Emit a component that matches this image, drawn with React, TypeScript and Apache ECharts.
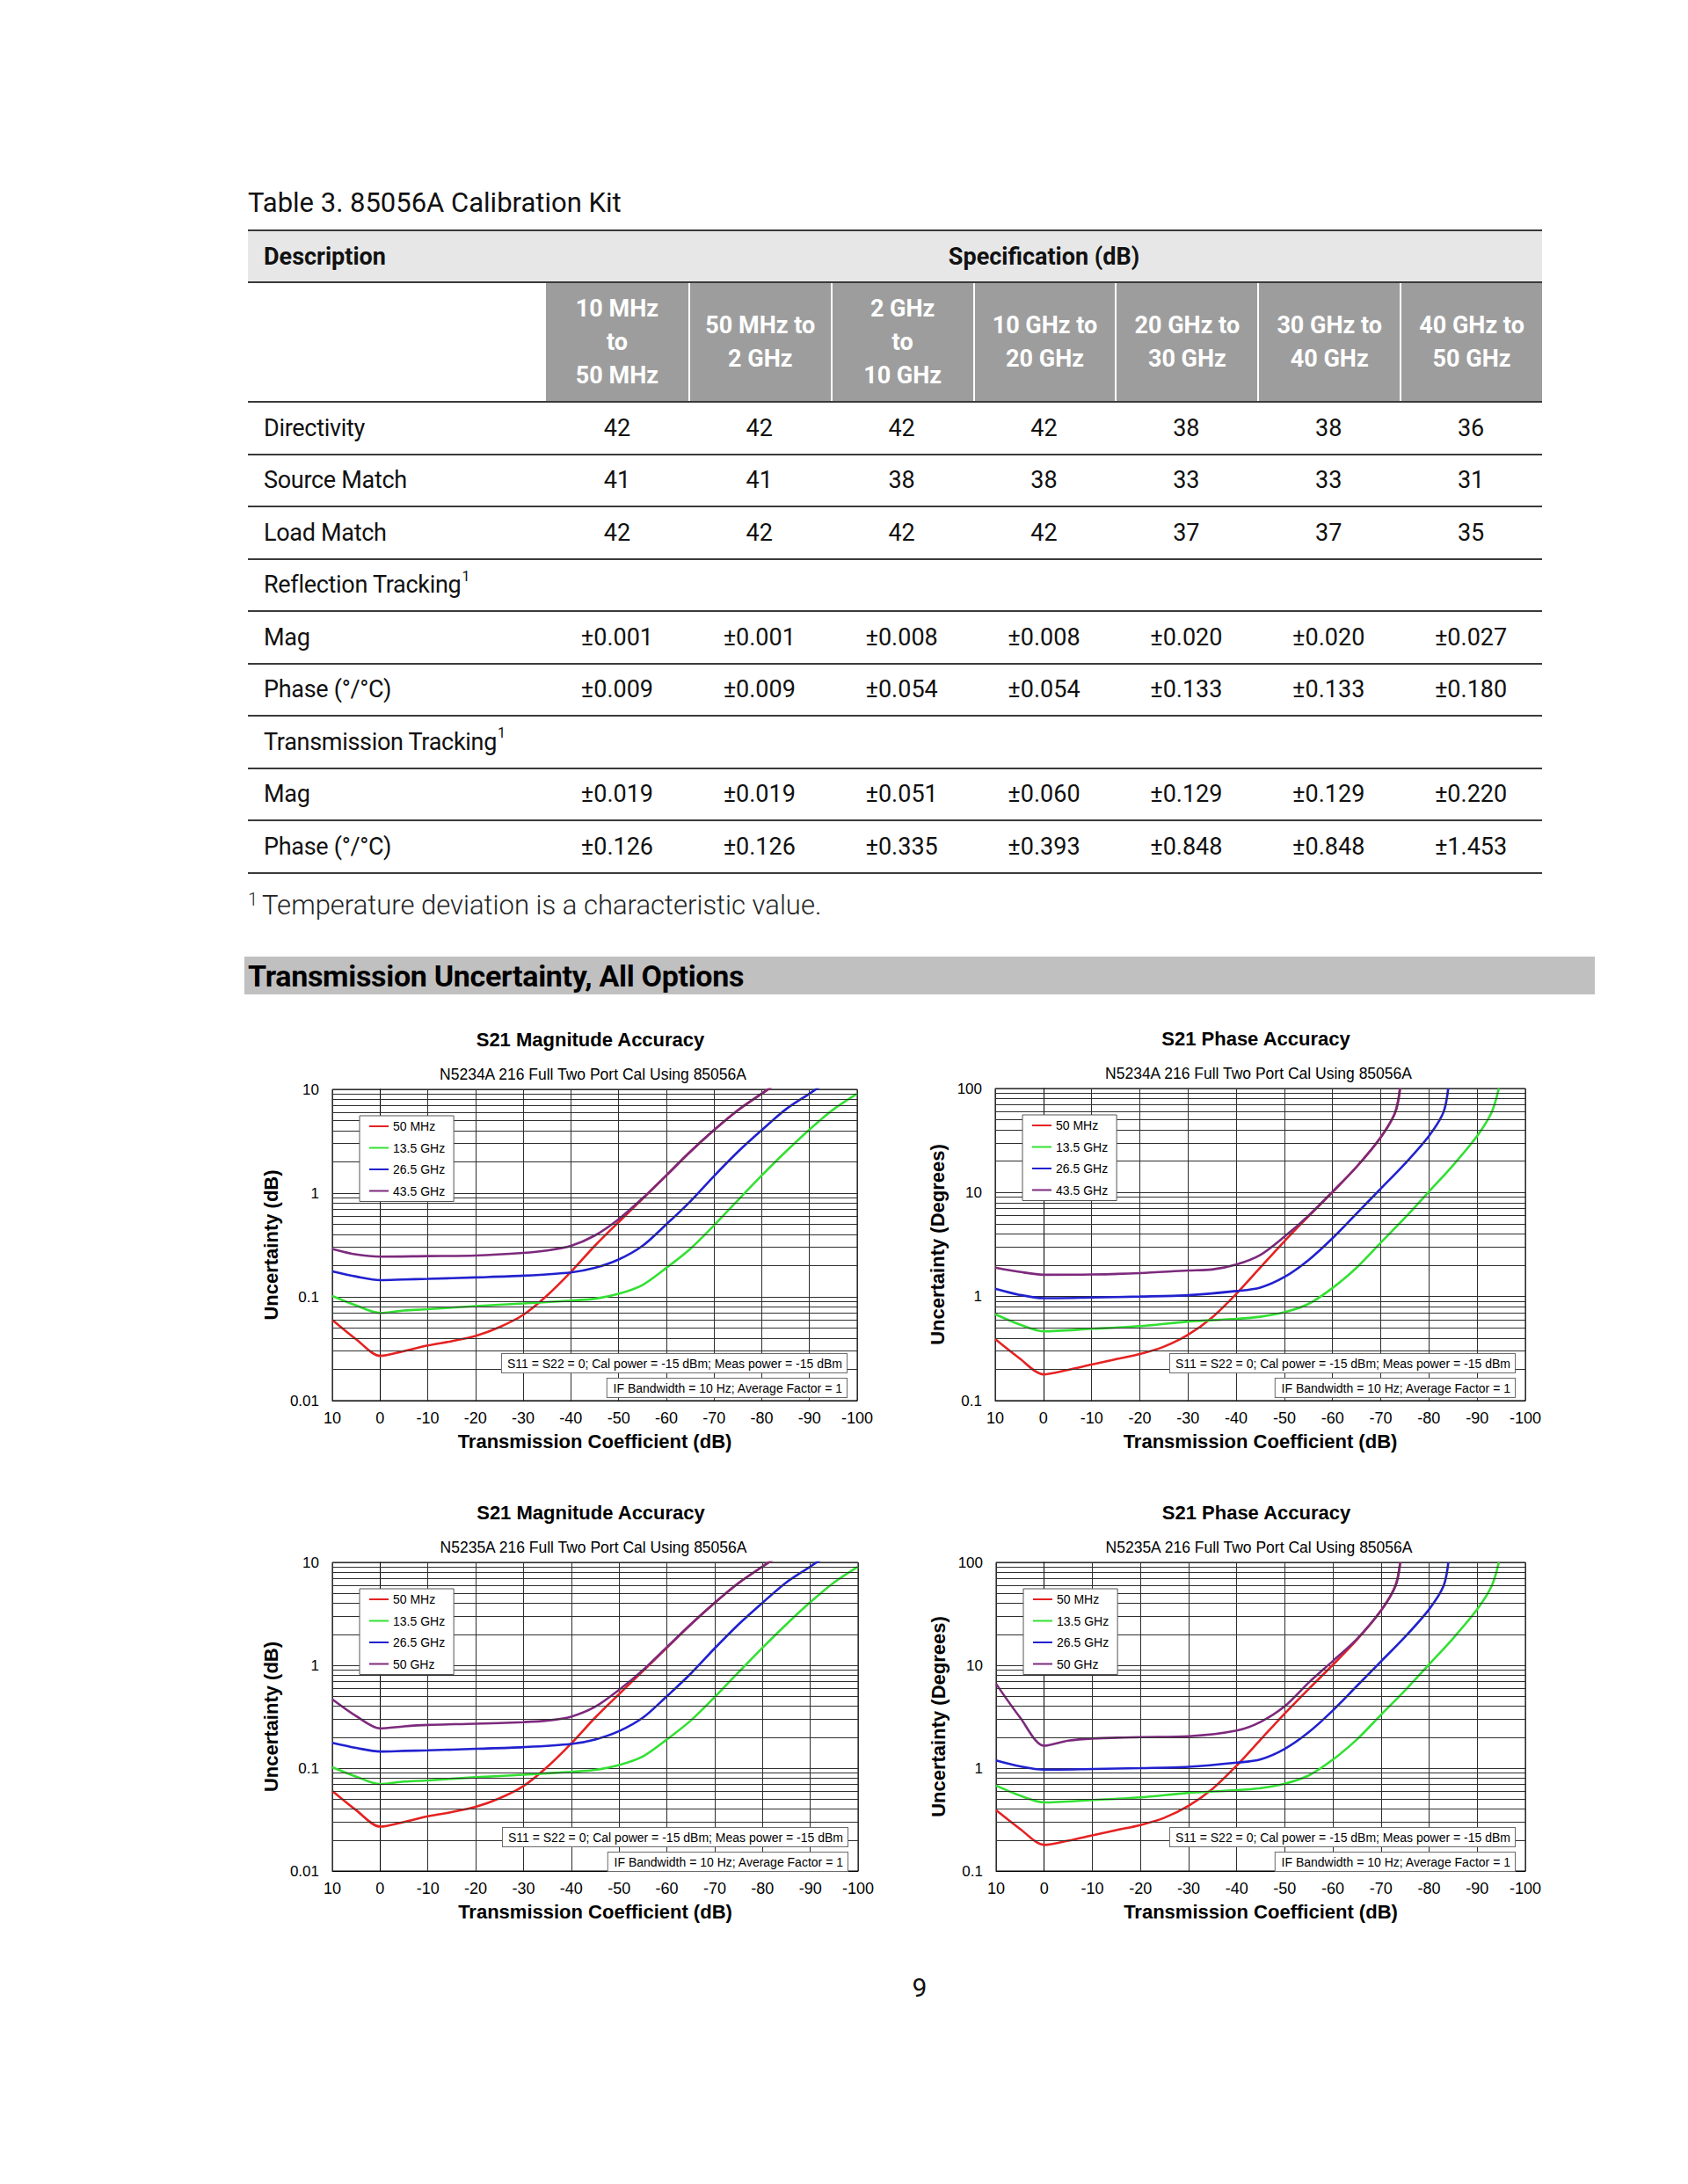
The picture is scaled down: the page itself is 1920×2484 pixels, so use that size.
import React, { useEffect, useRef } from "react";
import * as echarts from "echarts";

const FONT = "'Liberation Sans', Arial, Helvetica, sans-serif";
const TFONT = "Roboto, 'Noto Sans', 'Liberation Sans', sans-serif";

// ---------------- Table data ----------------
const tableTitle = "Table 3. 85056A Calibration Kit";
const headerDescription = "Description";
const headerSpec = "Specification (dB)";
const specColumns: string[][] = [
  ["10 MHz", "to", "50 MHz"],
  ["50 MHz to", "2 GHz"],
  ["2 GHz", "to", "10 GHz"],
  ["10 GHz to", "20 GHz"],
  ["20 GHz to", "30 GHz"],
  ["30 GHz to", "40 GHz"],
  ["40 GHz to", "50 GHz"],
];
const directivity = ["42", "42", "42", "42", "38", "38", "36"];
const sourceMatch = ["41", "41", "38", "38", "33", "33", "31"];
const loadMatch = ["42", "42", "42", "42", "37", "37", "35"];
const reflMag = ["±0.001", "±0.001", "±0.008", "±0.008", "±0.020", "±0.020", "±0.027"];
const reflPhase = ["±0.009", "±0.009", "±0.054", "±0.054", "±0.133", "±0.133", "±0.180"];
const transMag = ["±0.019", "±0.019", "±0.051", "±0.060", "±0.129", "±0.129", "±0.220"];
const transPhase = ["±0.126", "±0.126", "±0.335", "±0.393", "±0.848", "±0.848", "±1.453"];
const tableRows: { label: string; sup?: string; values?: string[] }[] = [
  { label: "Directivity", values: directivity },
  { label: "Source Match", values: sourceMatch },
  { label: "Load Match", values: loadMatch },
  { label: "Reflection Tracking", sup: "1" },
  { label: "Mag", values: reflMag },
  { label: "Phase (°/°C)", values: reflPhase },
  { label: "Transmission Tracking", sup: "1" },
  { label: "Mag", values: transMag },
  { label: "Phase (°/°C)", values: transPhase },
];
const footnote = "Temperature deviation is a characteristic value.";
const sectionTitle = "Transmission Uncertainty, All Options";
const pageNumber = "9";

// ---------------- Chart data ([transmission dB, uncertainty]) ----------------
const xTicks = { min: -100, max: 10, step: 10 };
const legendN5234 = ["50 MHz", "13.5 GHz", "26.5 GHz", "43.5 GHz"];
const legendN5235 = ["50 MHz", "13.5 GHz", "26.5 GHz", "50 GHz"];

const mag50MHz = [[10, 0.06], [5, 0.039], [0, 0.027], [-5, 0.03], [-10, 0.034], [-15, 0.0374], [-20, 0.042], [-25, 0.051], [-30, 0.067], [-35, 0.103], [-40, 0.174], [-45, 0.31], [-50, 0.525], [-55, 0.88], [-60, 1.48], [-65, 2.5], [-70, 4.05], [-75, 6.3], [-80, 9.1], [-85, 13]];
const mag13_5GHz = [[10, 0.102], [5, 0.0826], [0, 0.07], [-5, 0.074], [-10, 0.076], [-20, 0.0815], [-30, 0.0863], [-40, 0.092], [-45, 0.096], [-50, 0.107], [-55, 0.13], [-60, 0.19], [-65, 0.29], [-70, 0.49], [-75, 0.855], [-80, 1.48], [-85, 2.5], [-90, 4.1], [-95, 6.4], [-100, 9.1]];
const mag26_5GHz = [[10, 0.176], [5, 0.157], [0, 0.145], [-5, 0.147], [-10, 0.149], [-20, 0.154], [-30, 0.16], [-40, 0.172], [-45, 0.19], [-50, 0.229], [-55, 0.31], [-60, 0.5], [-65, 0.83], [-70, 1.46], [-75, 2.5], [-80, 4.05], [-85, 6.4], [-90, 9.1], [-95, 13]];
const mag43_5GHz = [[10, 0.29], [5, 0.256], [0, 0.244], [-10, 0.247], [-20, 0.25], [-30, 0.265], [-35, 0.28], [-40, 0.31], [-45, 0.39], [-50, 0.56], [-55, 0.89], [-60, 1.48], [-65, 2.5], [-70, 4.05], [-75, 6.3], [-80, 9.1], [-85, 13]];
const mag50GHz = [[10, 0.466], [5, 0.32], [0, 0.243], [-5, 0.255], [-10, 0.263], [-20, 0.27], [-30, 0.28], [-35, 0.29], [-40, 0.317], [-45, 0.395], [-50, 0.577], [-55, 0.9], [-60, 1.5], [-65, 2.5], [-70, 4.05], [-75, 6.3], [-80, 9.1], [-85, 13]];

const ph50MHz = [[10, 0.39], [5, 0.256], [0, 0.179], [-5, 0.197], [-10, 0.222], [-15, 0.25], [-20, 0.28], [-25, 0.33], [-30, 0.43], [-35, 0.63], [-40, 1.06], [-45, 1.9], [-50, 3.4], [-55, 5.9], [-60, 10.1], [-65, 17.7], [-70, 34], [-73, 59], [-74, 100]];
const ph13_5GHz = [[10, 0.676], [5, 0.54], [0, 0.464], [-10, 0.49], [-20, 0.52], [-30, 0.575], [-40, 0.61], [-45, 0.64], [-50, 0.706], [-55, 0.85], [-60, 1.21], [-65, 1.9], [-70, 3.3], [-75, 5.7], [-80, 10.2], [-85, 18.3], [-90, 35], [-93, 59], [-94.5, 100]];
const ph26_5GHz = [[10, 1.19], [5, 1.04], [0, 0.965], [-10, 0.98], [-20, 1.0], [-30, 1.03], [-40, 1.13], [-45, 1.22], [-50, 1.54], [-55, 2.24], [-60, 3.64], [-65, 6.3], [-70, 10.9], [-75, 18.9], [-80, 35], [-83, 59], [-84, 100]];
const ph43_5GHz = [[10, 1.9], [5, 1.73], [0, 1.62], [-10, 1.63], [-20, 1.68], [-30, 1.78], [-35, 1.82], [-40, 2.03], [-45, 2.51], [-50, 3.76], [-55, 6.0], [-60, 10.2], [-65, 17.7], [-70, 34], [-73, 59], [-74, 100]];
const ph50GHz = [[10, 6.6], [5, 3.1], [0, 1.65], [-5, 1.85], [-10, 1.94], [-20, 2.0], [-30, 2.04], [-40, 2.32], [-45, 2.82], [-50, 4.0], [-55, 6.8], [-60, 11.0], [-65, 18], [-70, 34], [-73, 59], [-74, 100]];

const COLORS = ["#e52222", "#33e033", "#2121cf", "#7d2a7d"];

const annotation1 = "S11 = S22 = 0; Cal power = -15 dBm; Meas power = -15 dBm";
const annotation2 = "IF Bandwidth = 10 Hz; Average Factor = 1";

function minorValues(minV: number, maxV: number): number[] {
  const out: number[] = [];
  for (let d = minV; d < maxV * 0.999; d *= 10) {
    for (let k = 2; k <= 9; k++) out.push(+(d * k).toPrecision(3));
  }
  return out;
}

type ChartProps = {
  left: number; top: number; width: number; height: number;
  gl: number; gt: number; gw: number; gh: number;
  title: string; subtitle: string; yName: string; yNameGap: number;
  yMin: number; yMax: number;
  names: string[]; data: number[][][];
};

function UncertaintyChart(p: ChartProps) {
  const ref = useRef<HTMLDivElement>(null);
  useEffect(() => {
    if (!ref.current) return;
    const chart = echarts.init(ref.current, undefined, { renderer: "svg" });
    const gridColor = "#2e2e2e";
    const right = p.gl + p.gw - 12;
    const bottom = p.gt + p.gh;
    const boxText = (text: string, yCenter: number) => ({
      type: "text",
      x: right,
      y: yCenter,
      z: 10,
      style: {
        text,
        font: `14px ${FONT}`,
        fill: "#000",
        align: "right",
        verticalAlign: "middle",
        textAlign: "right",
        textVerticalAlign: "middle",
        backgroundColor: "#fff",
        borderColor: "#6a6a6a",
        borderWidth: 1,
        padding: [3, 5, 3, 6],
        lineHeight: 15,
      },
    });
    const option: any = {
      animation: false,
      grid: { left: p.gl, top: p.gt, width: p.gw, height: p.gh, show: true, borderColor: "#000", borderWidth: 1, backgroundColor: "transparent" },
      xAxis: {
        type: "value",
        min: xTicks.min,
        max: xTicks.max,
        interval: xTicks.step,
        inverse: true,
        axisLine: { show: true, lineStyle: { color: "#000", width: 1 } },
        axisTick: { show: false },
        axisLabel: { color: "#000", fontSize: 18, margin: 11, fontFamily: FONT },
        splitLine: { show: true, lineStyle: { color: gridColor, width: 1 } },
        name: "Transmission Coefficient (dB)",
        nameLocation: "middle",
        nameGap: 35,
        nameTextStyle: { fontSize: 22, fontWeight: "bold", color: "#000", fontFamily: FONT },
      },
      yAxis: {
        type: "log",
        logBase: 10,
        min: p.yMin,
        max: p.yMax,
        axisLine: { show: true, lineStyle: { color: "#000", width: 1 } },
        axisTick: { show: false },
        axisLabel: {
          color: "#000", fontSize: 17, margin: 15, fontFamily: FONT,
          formatter: (v: number) => String(+v.toPrecision(3)),
        },
        splitLine: { show: true, lineStyle: { color: gridColor, width: 1 } },
        name: p.yName,
        nameLocation: "middle",
        nameGap: p.yNameGap,
        nameTextStyle: { fontSize: 22, fontWeight: "bold", color: "#000", fontFamily: FONT },
      },
      legend: {
        data: p.names,
        orient: "vertical",
        left: p.gl + 31,
        top: p.gt + 30,
        z: 20,
        zlevel: 0,
        backgroundColor: "#fff",
        borderColor: "#555",
        borderWidth: 1,
        padding: [4, 10, 4, 11],
        itemWidth: 22,
        itemHeight: 2,
        itemGap: 8.5,
        icon: "rect",
        selectedMode: false,
        textStyle: { fontSize: 14, color: "#000", fontFamily: FONT, lineHeight: 16 },
      },
      graphic: [
        {
          type: "text", x: p.gl + p.gw / 2 - 5, y: p.gt - 57, z: 10,
          style: { text: p.title, font: `bold 22px ${FONT}`, fill: "#000", align: "center", verticalAlign: "middle", textAlign: "center", textVerticalAlign: "middle" },
        },
        {
          type: "text", x: p.gl + p.gw / 2 - 2, y: p.gt - 17, z: 10,
          style: { text: p.subtitle, font: `17.5px ${FONT}`, fill: "#000", align: "center", verticalAlign: "middle", textAlign: "center", textVerticalAlign: "middle" },
        },
        boxText(annotation1, bottom - 42.5),
        boxText(annotation2, bottom - 14.5),
      ],
      series: [
        {
          type: "line",
          name: "minor-grid",
          data: [],
          z: 1,
          silent: true,
          symbol: "none",
          markLine: {
            silent: true,
            symbol: ["none", "none"],
            label: { show: false },
            lineStyle: { color: gridColor, width: 1, type: "solid" },
            emphasis: { disabled: true },
            animation: false,
            data: minorValues(p.yMin, p.yMax).map((v) => ({ yAxis: v })),
          },
        },
        ...p.names.map((name, i) => ({
          type: "line",
          name,
          data: p.data[i],
          symbol: "none",
          smooth: 0.3,
          z: 2,
          clip: true,
          lineStyle: { color: COLORS[i], width: 2.6 },
          itemStyle: { color: COLORS[i] },
        })),
      ],
    };
    chart.setOption(option);
    return () => chart.dispose();
  }, []);
  return <div ref={ref} style={{ position: "absolute", left: p.left, top: p.top, width: p.width, height: p.height }} />;
}

// ---------------- Table layout ----------------
const T_LEFT = 282;
const T_RIGHT = 1754;
const FIRST_W = 339;
const COL_W = (T_RIGHT - T_LEFT - FIRST_W) / 7;
const T_TOP = 262;
const HEAD_BOT = 321;
const SUB_BOT = 457;
const ROW_H = 59.5;
const RULE = "#3a3a3a";
const TSIZE = 27;

function HLine({ y }: { y: number }) {
  return <div style={{ position: "absolute", left: T_LEFT, top: y - 1, width: T_RIGHT - T_LEFT, height: 2, background: RULE }} />;
}

function SpecTable() {
  const els: React.ReactNode[] = [];
  els.push(
    <div key="title" style={{ position: "absolute", left: T_LEFT, top: 211, fontSize: 31, lineHeight: "40px", fontFamily: TFONT, color: "#111", whiteSpace: "nowrap" }}>{tableTitle}</div>
  );
  els.push(<div key="hbg" style={{ position: "absolute", left: T_LEFT, top: T_TOP, width: T_RIGHT - T_LEFT, height: HEAD_BOT - T_TOP, background: "#e7e7e7" }} />);
  els.push(
    <div key="hdesc" style={{ position: "absolute", left: 300, top: T_TOP, height: HEAD_BOT - T_TOP, display: "flex", alignItems: "center", fontSize: TSIZE, fontWeight: 700, fontFamily: TFONT, color: "#111" }}>{headerDescription}</div>
  );
  els.push(
    <div key="hspec" style={{ position: "absolute", left: T_LEFT + FIRST_W, width: T_RIGHT - T_LEFT - FIRST_W, top: T_TOP, height: HEAD_BOT - T_TOP, display: "flex", alignItems: "center", justifyContent: "center", fontSize: TSIZE, fontWeight: 700, fontFamily: TFONT, color: "#111" }}>{headerSpec}</div>
  );
  specColumns.forEach((lines, i) => {
    const x = T_LEFT + FIRST_W + i * COL_W;
    els.push(
      <div key={"sc" + i} style={{ position: "absolute", left: x, top: HEAD_BOT, width: COL_W, height: SUB_BOT - HEAD_BOT, background: "#9d9d9d", display: "flex", flexDirection: "column", alignItems: "center", justifyContent: "center", color: "#fff", fontSize: TSIZE, fontWeight: 700, lineHeight: "38px", fontFamily: TFONT, boxSizing: "border-box", borderLeft: i > 0 ? "2px solid #fff" : "none" }}>
        {lines.map((l, k) => <div key={k} style={{ whiteSpace: "nowrap" }}>{l}</div>)}
      </div>
    );
  });
  tableRows.forEach((r, i) => {
    const y = SUB_BOT + i * ROW_H;
    els.push(
      <div key={"rl" + i} style={{ position: "absolute", left: 300, top: y, height: ROW_H, display: "flex", alignItems: "center", fontSize: TSIZE, letterSpacing: -0.3, fontFamily: TFONT, color: "#111", whiteSpace: "nowrap" }}>
        {r.label}
        {r.sup ? <span style={{ fontSize: 16, position: "relative", top: -10, marginLeft: 1 }}>{r.sup}</span> : null}
      </div>
    );
    (r.values || []).forEach((v, j) => {
      els.push(
        <div key={"rv" + i + "_" + j} style={{ position: "absolute", left: T_LEFT + FIRST_W + j * COL_W, width: COL_W, top: y, height: ROW_H, display: "flex", alignItems: "center", justifyContent: "center", fontSize: TSIZE, fontFamily: TFONT, color: "#111" }}>{v}</div>
      );
    });
  });
  els.push(<HLine key="l0" y={T_TOP} />);
  els.push(<HLine key="l1" y={HEAD_BOT} />);
  els.push(<HLine key="l2" y={SUB_BOT} />);
  tableRows.forEach((_, i) => els.push(<HLine key={"lr" + i} y={SUB_BOT + (i + 1) * ROW_H} />));
  els.push(
    <div key="fn" style={{ position: "absolute", left: T_LEFT, top: 1011, fontSize: 31, fontWeight: 300, lineHeight: "38px", fontFamily: TFONT, color: "#222", whiteSpace: "nowrap" }}>
      <span style={{ fontSize: 20, position: "relative", top: -10, marginRight: 5 }}>1</span>{footnote}
    </div>
  );
  return <>{els}</>;
}

export default function App() {
  return (
    <div style={{ position: "absolute", left: 0, top: 0, width: 1920, height: 2484, background: "#fff", overflow: "hidden" }}>
      <SpecTable />
      <div style={{ position: "absolute", left: 278, top: 1088, width: 1536, height: 43, background: "#c0c0c0", display: "flex", alignItems: "center" }}>
        <span style={{ marginLeft: 4, fontSize: 34, fontWeight: 700, letterSpacing: -0.3, fontFamily: TFONT, color: "#000", whiteSpace: "nowrap" }}>{sectionTitle}</span>
      </div>
      <UncertaintyChart left={280} top={1140} width={720} height={520} gl={98} gt={99} gw={597} gh={354}
        title="S21 Magnitude Accuracy" subtitle="N5234A 216 Full Two Port Cal Using 85056A"
        yName="Uncertainty (dB)" yNameGap={57} yMin={0.01} yMax={10}
        names={legendN5234} data={[mag50MHz, mag13_5GHz, mag26_5GHz, mag43_5GHz]} />
      <UncertaintyChart left={1030} top={1140} width={740} height={520} gl={102} gt={98} gw={603} gh={355}
        title="S21 Phase Accuracy" subtitle="N5234A 216 Full Two Port Cal Using 85056A"
        yName="Uncertainty (Degrees)" yNameGap={52} yMin={0.1} yMax={100}
        names={legendN5234} data={[ph50MHz, ph13_5GHz, ph26_5GHz, ph43_5GHz]} />
      <UncertaintyChart left={280} top={1670} width={720} height={520} gl={98} gt={107} gw={598} gh={355}
        title="S21 Magnitude Accuracy" subtitle="N5235A 216 Full Two Port Cal Using 85056A"
        yName="Uncertainty (dB)" yNameGap={57} yMin={0.01} yMax={10}
        names={legendN5235} data={[mag50MHz, mag13_5GHz, mag26_5GHz, mag50GHz]} />
      <UncertaintyChart left={1030} top={1670} width={740} height={520} gl={103} gt={107} gw={602} gh={355}
        title="S21 Phase Accuracy" subtitle="N5235A 216 Full Two Port Cal Using 85056A"
        yName="Uncertainty (Degrees)" yNameGap={52} yMin={0.1} yMax={100}
        names={legendN5235} data={[ph50MHz, ph13_5GHz, ph26_5GHz, ph50GHz]} />
      <div style={{ position: "absolute", left: 996, width: 100, top: 2242, lineHeight: "38px", textAlign: "center", fontSize: 30, fontFamily: TFONT, color: "#111" }}>{pageNumber}</div>
    </div>
  );
}
